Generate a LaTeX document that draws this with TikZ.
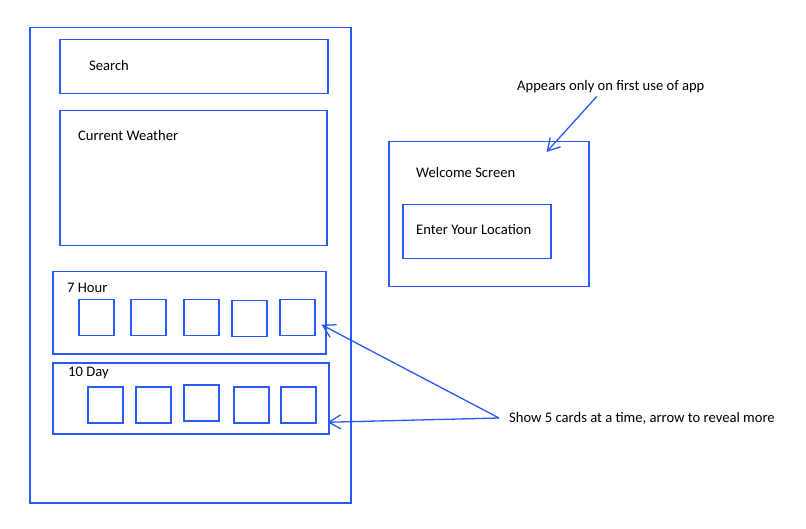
\documentclass[tikz,border=0pt]{standalone}
\usepackage{fontspec}
\setmainfont{Carlito}
\usetikzlibrary{arrows.meta,positioning,calc}
\definecolor{wireblue}{RGB}{40,90,250}

\begin{document}
\begin{tikzpicture}[x=1pt,y=-1pt,
frame/.style={
% The shape:
rectangle,anchor=north west,inner sep=0pt,
% The border:
line width=1.5pt,
draw=wireblue
},
card/.style={frame,minimum width=35pt,minimum height=36pt},
caption/.style={anchor=west,inner sep=0pt,font=\fontsize{14.6}{17}\selectfont},
note/.style={-{Straight Barb[length=12pt,width=14pt]},line width=1.3pt,draw=wireblue}]

\useasboundingbox (0,0) rectangle (806,529);

% the phone screen
\node (phone) [frame,minimum width=321pt,minimum height=475pt] at (29,27) {};
\node (search) [frame,minimum width=268pt,minimum height=54pt] at (59,39) {};
\node (current) [frame,minimum width=267pt,minimum height=135pt] at (59,110) {};
\node (hour) [frame,minimum width=273pt,minimum height=82pt] at (52,271) {};
\node (day) [frame,minimum width=276pt,minimum height=71pt] at (52,362) {};

\node (searchtxt) [caption] at (89,65) {Search};
\node (currenttxt) [caption] at (78,135) {Current Weather};
\node (hourtxt) [caption] at (67,288) {7 Hour};
\node (daytxt) [caption] at (68,373) {10 Day};

% hourly cards
\node (h1) [card] at (78,299) {};
\node (h2) [card] at (130,299) {};
\node (h3) [card] at (183,299) {};
\node (h4) [card] at (231,300) {};
\node (h5) [card] at (279,299) {};
% daily cards
\node (d1) [card] at (87,386) {};
\node (d2) [card] at (135,386) {};
\node (d3) [card] at (183,384) {};
\node (d4) [card] at (233,386) {};
\node (d5) [card] at (280,386) {};

% welcome screen
\node (welcome) [frame,minimum width=200pt,minimum height=145pt] at (388,141) {};
\node (enter) [frame,minimum width=148pt,minimum height=54pt] at (402,204) {};
\node (welcometxt) [caption] at (416,172) {Welcome Screen};
\node (entertxt) [caption] at (416,230) {Enter Your Location};

% notes
\node (appears) [caption] at (517,87) {Appears only on first use of app};
\node (show) [caption] at (509,418) {Show 5 cards at a time, arrow to reveal more};

\draw [note] ([xshift=-14pt,yshift=-3pt]appears.south) -- ([xshift=-43pt,yshift=-11pt]welcome.north east);
\draw [note] ([xshift=-10pt]show.west) -- ([xshift=6pt,yshift=-7pt]h5.east);
\draw [note] ([xshift=-10pt]show.west) -- ([xshift=-2pt,yshift=-24pt]day.east);
\end{tikzpicture}
\end{document}
